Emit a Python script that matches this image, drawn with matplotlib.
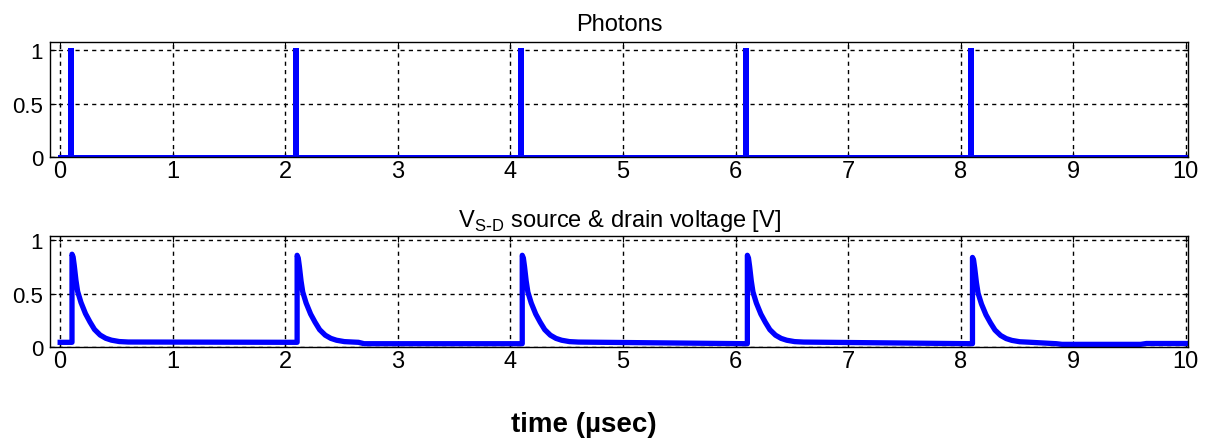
import numpy as np
import matplotlib.pyplot as plt

plt.rcParams['font.family'] = ['Liberation Sans', 'DejaVu Sans']

# photon pulses (start times in usec), width and height
photon_starts = [0.085, 2.085, 4.085, 6.085, 8.085]
photon_width = 0.01
photon_height = 1.0

# source-drain voltage: pulse rise times and peak values
v_starts = [0.105, 2.105, 4.105, 6.105, 8.105]
v_peaks = [0.87, 0.86, 0.86, 0.86, 0.84]
# decay shape after the peak (offset from rise in usec, fraction of peak)
decay_t = [0.0, 0.01, 0.02, 0.035, 0.05, 0.08, 0.12, 0.16, 0.2, 0.25, 0.3, 0.35, 0.42, 0.5]
decay_f = [1.0, 0.97, 0.88, 0.72, 0.6, 0.48, 0.36, 0.27, 0.19, 0.13, 0.095, 0.075, 0.06, 0.055]
# baseline level between pulses (time, level)
base_t = [0.0, 2.65, 2.7, 8.85, 8.9, 9.6, 9.65, 10.0]
base_v = [0.045, 0.045, 0.032, 0.032, 0.026, 0.026, 0.034, 0.034]


def baseline(t):
    return np.interp(t, base_t, base_v)


# build photon trace
pt = [0.0]
py = [0.0]
for s in photon_starts:
    pt += [s, s, s + photon_width, s + photon_width]
    py += [0.0, photon_height, photon_height, 0.0]
pt.append(10.0)
py.append(0.0)

# build voltage trace
vt = [0.0]
vy = [baseline(0.0)]
for s, pk in zip(v_starts, v_peaks):
    vt += [s, s]
    vy += [baseline(s), pk]
    for dt, f in zip(decay_t[1:], decay_f[1:]):
        vt.append(s + dt)
        vy.append(max(pk * f, baseline(s + dt)))
    # follow baseline up to the next pulse
    for bt in base_t:
        if s + decay_t[-1] < bt < s + 2.0:
            vt.append(bt)
            vy.append(baseline(bt))
vt.append(10.0)
vy.append(baseline(10.0))

fig = plt.figure(figsize=(12.06, 4.39), dpi=100)
ax1 = fig.add_axes([0.0415, 0.640, 0.9436, 0.262])
ax2 = fig.add_axes([0.0415, 0.207, 0.9436, 0.253])

for ax in (ax1, ax2):
    ax.set_xlim(-0.09, 10.02)
    ax.set_xticks(range(11))
    ax.set_yticks([0, 0.5, 1])
    ax.set_yticklabels(['0', '0.5', '1'])
    ax.grid(True, color='black', linestyle=(0, (3, 3)), linewidth=1)
    ax.tick_params(direction='in', top=True, right=True, length=4)
    ax.tick_params(axis='x', labelsize=17, pad=2)
    ax.tick_params(axis='y', labelsize=16, pad=5)
    for sp in ax.spines.values():
        sp.set_linewidth(1)

ax1.plot(pt, py, color='#0000ff', linewidth=3.6, solid_joinstyle='miter')
ax1.set_ylim(0, 1.075)
ax1.set_title('Photons', fontsize=17, pad=9)

ax2.plot(vt, vy, color='#0000ff', linewidth=3.8)
ax2.set_ylim(0, 1.04)
ax2.set_title(r'V$_{\mathregular{S\text{-}D}}$ source & drain voltage [V]', fontsize=17, pad=7)

fig.text(0.484, 0.015, 'time (\u00b5sec)', ha='center', fontsize=20, fontweight='bold')

plt.savefig('out.png')
